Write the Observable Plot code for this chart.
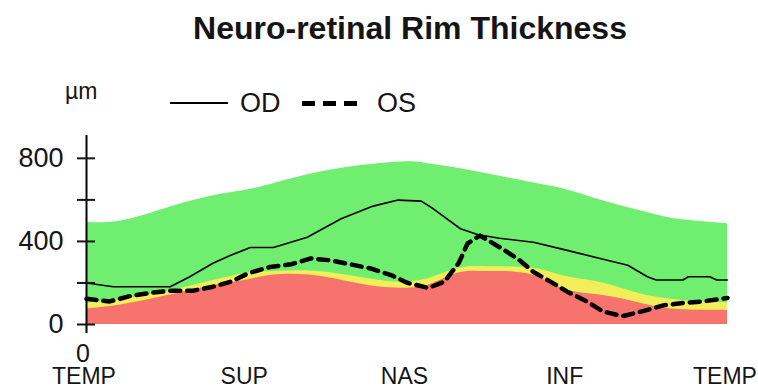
<!DOCTYPE html>
<html>
<head>
<meta charset="utf-8">
<script src="https://cdn.jsdelivr.net/npm/d3@7"></script>
<script src="https://cdn.jsdelivr.net/npm/@observablehq/plot@0.6"></script>
<style>
  body { margin: 0; background: #fff; font-family: "Liberation Sans", Arial, sans-serif; }
  #wrap { position: relative; width: 758px; height: 390px; overflow: hidden; background: #fff; }
  #wrap svg { position: absolute; left: 0; top: 0; }
  .t { position: absolute; white-space: nowrap; color: #151515; line-height: 1; z-index: 2; }
  .sw { position: absolute; z-index: 2; }
</style>
</head>
<body>
<div id="wrap">
  <div class="t" style="left:0;width:820px;text-align:center;top:12px;font-size:32px;font-weight:bold;">Neuro-retinal Rim Thickness</div>
  <div class="t" style="left:65px;top:80px;font-size:23px;">µm</div>
  <div class="sw" style="left:170px;top:102px;width:58px;height:2px;background:#000;"></div>
  <div class="t" style="left:240px;top:90px;font-size:27px;">OD</div>
  <div class="sw" style="left:302px;top:101px;width:55px;height:5px;background:repeating-linear-gradient(to right,#000 0 13px,transparent 13px 21px);"></div>
  <div class="t" style="left:377px;top:90px;font-size:27px;">OS</div>
</div>
<script>
// Normative bands (angle in degrees, thickness in µm)
const bandAngle = [0, 20, 45, 70, 90, 105, 125, 145, 165, 182, 195, 210, 225, 240, 255, 270, 290, 310, 325, 340, 360];
const greenTop  = [491, 499, 560, 618, 648, 678, 722, 755, 775, 784, 770, 750, 726, 700, 675, 648, 596, 550, 518, 499, 485];
const yellowTop = [104, 120, 160, 210, 247, 255, 258, 240, 212, 206, 230, 272, 278, 277, 265, 230, 200, 150, 125, 112, 104];
const redTop    = [75, 95, 138, 185, 214, 238, 238, 210, 180, 176, 199, 250, 255, 253, 225, 165, 140, 105, 78, 70, 68];

// OD (solid) measured profile
const odAngle = [0, 15, 47, 58, 71, 81, 92, 105, 124, 143, 161, 175, 188, 195, 210, 220, 232, 251, 270, 285, 304, 315, 320, 335, 338, 350, 354, 360];
const odValue = [200, 182, 182, 230, 295, 333, 371, 371, 420, 509, 570, 599, 594, 556, 461, 432, 415, 396, 357, 325, 285, 230, 214, 214, 230, 230, 214, 214];

// OS (dashed) measured profile
const osAngle = [0, 13, 25, 36, 47, 60, 71, 81, 91, 103, 115, 126, 137, 148, 159, 171, 180, 192, 201, 209, 214, 221, 232, 242, 251, 262, 270, 281, 290, 301, 312, 324, 335, 346, 360];
const osValue = [124, 111, 138, 152, 163, 163, 182, 206, 247, 277, 290, 318, 309, 290, 271, 238, 201, 176, 206, 295, 390, 428, 372, 318, 253, 199, 158, 111, 63, 40, 63, 92, 104, 111, 128];

// Axis ticks and labels
const yTicks = [0, 200, 400, 600, 800];
const yTickLabels = ["0", "", "400", "", "800"];
const xTicks = [0, 90, 180, 270, 360];
const xTickLabels = ["TEMP", "SUP", "NAS", "INF", "TEMP"];
const originLabel = [0];

const bands = bandAngle.map((a, i) => ({angle: a, green: greenTop[i], yellow: yellowTop[i], red: redTop[i]}));
const od = odAngle.map((a, i) => ({angle: a, v: odValue[i]}));
const os = osAngle.map((a, i) => ({angle: a, v: osValue[i]}));

const chart = Plot.plot({
  width: 758,
  height: 390,
  marginLeft: 86,
  marginRight: 31,
  marginTop: 135,
  marginBottom: 66,
  style: {fontFamily: "'Liberation Sans', Arial, sans-serif", background: "transparent", color: "#151515", overflow: "visible"},
  x: {domain: [0, 360], label: null},
  y: {domain: [0, 910], label: null},
  marks: [
    Plot.areaY(bands, {x: "angle", y: "green", fill: "#6fee6f", curve: "natural"}),
    Plot.areaY(bands, {x: "angle", y: "yellow", fill: "#f2ee5a", curve: "natural"}),
    Plot.areaY(bands, {x: "angle", y: "red", fill: "#f7736e", curve: "natural"}),
    Plot.line(od, {x: "angle", y: "v", stroke: "#000", strokeWidth: 1.6}),
    Plot.line(os, {x: "angle", y: "v", stroke: "#000", strokeWidth: 4.5, strokeDasharray: "10,7"}),
    Plot.ruleX([0], {stroke: "#000", strokeWidth: 2, insetBottom: -9}),
    Plot.axisY({ticks: yTicks, tickSize: 18, dx: 9, tickPadding: 14, strokeWidth: 2, fontSize: 27,
      tickFormat: d => yTickLabels[yTicks.indexOf(d)]}),
    Plot.axisX({ticks: xTicks, tickSize: 0, tickPadding: 43, fontSize: 23, dx: -2.5,
      tickFormat: d => xTickLabels[xTicks.indexOf(d)]}),
    Plot.text(originLabel, {x: d => d, text: d => String(d), frameAnchor: "bottom", lineAnchor: "top", dy: 20, dx: -3.5, fontSize: 25, fill: "#151515"})
  ]
});
document.getElementById("wrap").appendChild(chart);
</script>
</body>
</html>
